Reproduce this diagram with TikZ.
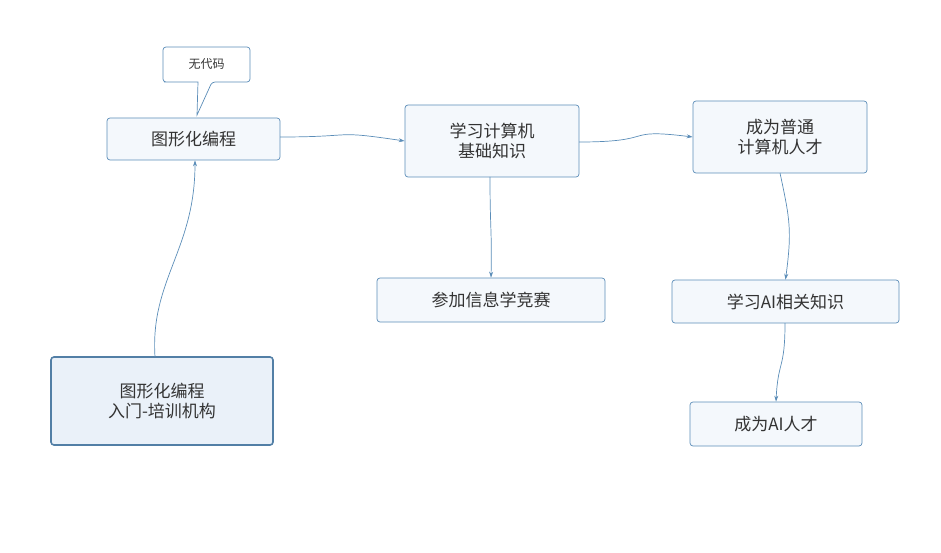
\documentclass[tikz,border=0pt]{standalone}
\usepackage{fontspec}
\setmainfont{Noto Sans CJK SC}
\usetikzlibrary{arrows.meta}
\definecolor{bd}{HTML}{5B8DB8}
\definecolor{fl}{HTML}{F4F8FC}
\definecolor{rf}{HTML}{EAF1F9}
\definecolor{tx}{HTML}{333333}
\tikzset{x=1pt,y=-1pt,
 box/.style={draw=bd,fill=fl,rounded corners=3pt,line width=0.7pt,text=tx,font=\fontsize{17}{20}\selectfont,align=center,inner sep=0pt},
 conn/.style={draw=bd,line width=0.7pt,-{Stealth[length=6pt,width=4pt]}}}
\begin{document}
\begin{tikzpicture}
\useasboundingbox (0,0) rectangle (941,553);
\node[box,minimum width=173,minimum height=42] (g) at (193.5,139) {图形化编程};
\node[box,minimum width=174,minimum height=72] (j) at (492,141) {学习计算机\\基础知识};
\node[box,minimum width=174,minimum height=72] (p) at (780,137) {成为普通\\计算机人才};
\node[box,minimum width=228,minimum height=44] (c) at (491,300) {参加信息学竞赛};
\node[box,minimum width=227,minimum height=43] (a) at (785.5,301.5) {学习AI相关知识};
\node[box,minimum width=172,minimum height=44] (r) at (776,424) {成为AI人才};
\node[box,fill=rf,draw=bd!90!black,line width=1.6pt,minimum width=222,minimum height=88] (root) at (162,401) {图形化编程\\入门-培训机构};
\draw[draw=bd,fill=white,line width=0.7pt,rounded corners=3pt] (190,82) -- (167,82) -- (163,82) -- (163,47) -- (250,47) -- (250,82) -- (212,82) [sharp corners] -- (197,115) -- (198,82) -- cycle;
\node[text=tx,font=\fontsize{12}{14}\selectfont] (n) at (206.5,64.5) {无代码};
\draw[conn] (280,137) .. controls (360,137) and (330,130) .. (j.west);
\draw[conn] (579,142) .. controls (660,142) and (620,128) .. (p.west);
\draw[conn] (490,177) .. controls (490,230) and (492,230) .. (c.north);
\draw[conn] (780,173) .. controls (790,220) and (792,230) .. (a.north);
\draw[conn] (785,323) .. controls (785,370) and (778,360) .. (r.north);
\draw[conn] (155,357) .. controls (150,280) and (195,250) .. (g.south -| 195,0);
\end{tikzpicture}
\end{document}
